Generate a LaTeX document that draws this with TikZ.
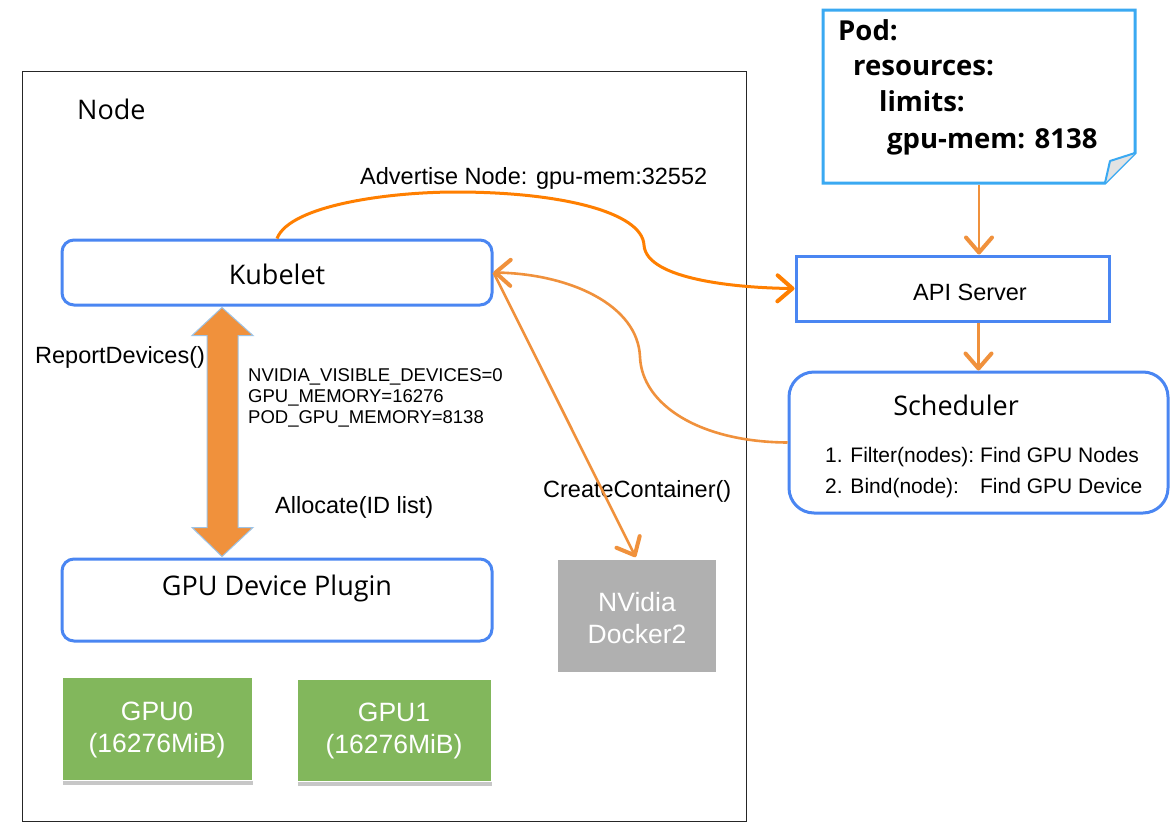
\documentclass[tikz,border=0pt]{standalone}
\usepackage{fontspec}
\setmainfont{Liberation Sans}
\newfontfamily\yahei{Open Sans}
\usetikzlibrary{arrows.meta,calc,shadows}
\definecolor{boxblue}{HTML}{4A86F2}
\definecolor{podblue}{HTML}{3AA9F2}
\definecolor{arrorange}{HTML}{F0913C}
\definecolor{advorange}{HTML}{FF7F00}
\definecolor{gpugreen}{HTML}{82B75C}
\definecolor{dockergray}{HTML}{B0B0B0}
\definecolor{dblborder}{HTML}{9DC3E6}
\definecolor{foldgray}{HTML}{E3E3E3}
\begin{document}
\begin{tikzpicture}[x=1pt,y=-1pt,
  bluebox/.style={draw=boxblue,line width=3pt,rounded corners=12pt,inner sep=0pt},
  lbl/.style={inner sep=0pt,font=\fontsize{23.5}{28}\selectfont},
  yh/.style={inner sep=0pt,font=\yahei\fontsize{27}{32}\selectfont},
  podtxt/.style={inner sep=0pt,anchor=base west,font=\yahei\bfseries\fontsize{27.5}{32}\selectfont},
  gpubox/.style={fill=gpugreen,draw=white,line width=1pt,inner sep=0pt,
    drop shadow={shadow xshift=1pt,shadow yshift=-5pt,fill=black,opacity=0.22}},
  whitetxt/.style={text=white,align=center,inner sep=0pt,font=\fontsize{26.5}{31.5}\selectfont},
  barbtip/.style={-{Straight Barb[length=15pt,width=26pt,line width=4pt,round]}},
  orarrow/.style={barbtip,draw=arrorange,line width=2.2pt},
  orarrowb/.style={barbtip,draw=arrorange,line width=2.6pt},
  advarrow/.style={barbtip,draw=advorange,line width=3pt}]
\useasboundingbox (0,0) rectangle (1173,822);
\fill[white] (0,0) rectangle (1173,822);

% outer Node frame
\node[draw=black!85,line width=1.2pt,minimum width=724pt,minimum height=750pt,
  anchor=north west,inner sep=0pt] (nodebox) at (22,71) {};
\node[yh,anchor=base west] (nodelbl) at (77,119) {Node};

% Kubelet and plugin
\node[bluebox,minimum width=430pt,minimum height=65pt] (kub) at (277,272.5) {};
\node[yh,anchor=base] (kubtxt) at (277,284) {Kubelet};
\node[bluebox,minimum width=430pt,minimum height=82pt] (plug) at (277,600) {};
\node[yh,anchor=base] (plugtxt) at (277,595) {GPU Device Plugin};

% double arrow between kubelet and plugin
\coordinate (dA) at ($(kub.south)+(-55,1)$);
\coordinate (dB) at ($(plug.north)+(-55,-1)$);
\fill[arrorange,draw=dblborder,line width=1pt]
  (dA) -- ($(dA)+(31,28)$) -- ($(dA)+(16,28)$) -- ($(dB)+(16,-29)$) -- ($(dB)+(31,-29)$)
  -- (dB) -- ($(dB)+(-30,-29)$) -- ($(dB)+(-15,-29)$) -- ($(dA)+(-15,28)$)
  -- ($(dA)+(-30,28)$) -- cycle;

\node[lbl,anchor=base west] (report) at (35,363) {ReportDevices()};
\node[inner sep=0pt,anchor=north west,align=left,font=\fontsize{18.5}{21}\selectfont] (env)
  at (248,368) {NVIDIA\_VISIBLE\_DEVICES=0\\GPU\_MEMORY=16276\\POD\_GPU\_MEMORY=8138};
\node[lbl,anchor=base west] (alloc) at (275,513) {Allocate(ID list)};
\node[lbl,anchor=base west] (cc) at (543,497) {CreateContainer()};

% NVidia Docker2
\node[fill=dockergray,minimum width=158pt,minimum height=112pt,inner sep=0pt] (docker) at (637,616) {};
\node[whitetxt] (dockertxt) at (637,618) {NVidia\\Docker2};

% GPUs
\node[gpubox,minimum width=190pt,minimum height=103pt] (gpu0) at (157,728.5) {};
\node[whitetxt] (gpu0txt) at (157,730) {GPU0\\(16276MiB)};
\node[gpubox,minimum width=194pt,minimum height=102pt] (gpu1) at (394,730) {};
\node[whitetxt] (gpu1txt) at (394,731) {GPU1\\(16276MiB)};

% API Server
\node[draw=boxblue,line width=3pt,minimum width=313pt,minimum height=65pt,inner sep=0pt] (api) at (952.5,288.5) {};
\node[inner sep=0pt,anchor=base,font=\fontsize{23.5}{28}\selectfont] (apitxt) at (970,300) {API Server};

% Scheduler
\node[bluebox,rounded corners=25pt,minimum width=379pt,minimum height=141pt] (sched) at (978.5,442.5) {};
\node[yh,anchor=base] (schedtxt) at (956,415) {Scheduler};
\node[inner sep=0pt,anchor=north west,font=\fontsize{21}{31}\selectfont] (steps) at (825,440.3)
  {\begin{tabular}{@{}l@{\hspace{6pt}}l@{}}1. Filter(nodes): & Find GPU Nodes\\ 2. Bind(node): & Find GPU Device\end{tabular}};

% Pod note
\draw[podblue,line width=3pt,fill=white,line join=miter]
  (823,10) -- (1135,10) -- (1135,153) -- (1105,183) -- (823,183) -- cycle;
\draw[podblue,line width=2pt,fill=foldgray,line join=round]
  (1135,153) -- (1110,161) -- (1105,183);
\coordinate (pod) at (979,184.5);
\node[podtxt] (p1) at (838,40) {Pod:};
\node[podtxt] (p2) at (853,75) {resources:};
\node[podtxt] (p3) at (879,111) {limits:};
\node[podtxt] (p4) at (887,148) {gpu-mem: 8138};

% connectors
\draw[orarrow] (pod) -- (pod |- api.north);
\draw[orarrow] (api.south -| sched.north) -- (sched.north);
\draw[advarrow] (kub.north) .. controls (290,205) and (390,192) .. (456,192)
  .. controls (560,192) and (642,212) .. (644,245)
  .. controls (646,280) and (740,288) .. (api.west);
\draw[orarrowb] (sched.west) .. controls (700,442) and (642,405) .. (640,357)
  .. controls (638,305) and (570,274) .. (kub.east);
\draw[orarrowb,shorten >=3pt] (kub.east) -- (docker.north);
\node[lbl,anchor=base west] (adv) at (360,184) {Advertise Node: gpu-mem:32552};
\end{tikzpicture}
\end{document}
